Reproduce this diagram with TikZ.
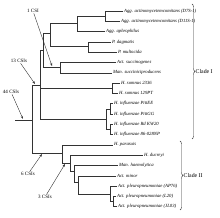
\documentclass[tikz,border=0pt]{standalone}
\usepackage{fontspec}
\setmainfont{Liberation Serif}
\usetikzlibrary{arrows.meta,decorations.pathreplacing}
\begin{document}
\begin{tikzpicture}[x=0.35mm, y=-0.35mm, line width=0.4pt, draw=black!80,
  >={Stealth[length=3pt,width=2.2pt]},
  leaf/.style={anchor=west, inner sep=1pt, font=\fontsize{4.7}{5}\selectfont\itshape},
  csi/.style={inner sep=0.5pt, font=\fontsize{5}{5}\selectfont},
  clade/.style={anchor=west, inner sep=0.5pt, font=\fontsize{5.8}{6}\selectfont},
  tree/.style={draw=black!80}]
  \useasboundingbox (0,0) rectangle (220,218);
  % leaves, clade I
  \node[leaf] (aa1) at (123,11) {Agg. actinomycetemcomitans (D7S-1)};
  \node[leaf] (aa2) at (120,21.3) {Agg. actinomycetemcomitans (D11S-1)};
  \node[leaf] (aph) at (105,31.6) {Agg. aphrophilus};
  \node[leaf] (pdag) at (111,41.9) {P. dagmatis};
  \node[leaf] (pmul) at (117,52.2) {P. multocida};
  \node[leaf] (asuc) at (116,62.5) {Act. succinogenes};
  \node[leaf] (msuc) at (112,72.8) {Man. succiniciproducens};
  \node[leaf] (hs1) at (120,83.1) {H. somnus 2336};
  \node[leaf] (hs2) at (118,93.4) {H. somnus 129PT};
  \node[leaf] (hi1) at (113,103.7) {H. influenzae PittEE};
  \node[leaf] (hi2) at (113,114) {H. influenzae PittGG};
  \node[leaf] (hi3) at (113,124.3) {H. influenzae Rd KW20};
  \node[leaf] (hi4) at (113,134.6) {H. influenzae 86-028NP};
  % leaves, clade II
  \node[leaf] (hpar) at (113,144.9) {H. parasuis};
  \node[leaf] (hduc) at (143,155.2) {H. ducreyi};
  \node[leaf] (mhae) at (118,165.5) {Man. haemolytica};
  \node[leaf] (amin) at (116,175.8) {Act. minor};
  \node[leaf] (apl1) at (117,186.1) {Act. pleuropneumoniae (AP76)};
  \node[leaf] (apl2) at (116,196.4) {Act. pleuropneumoniae (L20)};
  \node[leaf] (apl3) at (117,206.7) {Act. pleuropneumoniae (JL03)};
  % inner nodes
  \coordinate (stem) at (15,120);
  \coordinate (root) at (32,120);
  \coordinate (cI) at (40,85);
  \coordinate (nE) at (43,50);
  \coordinate (nC) at (50,33);
  \coordinate (nA) at (77,23);
  \coordinate (nA1) at (105,16);
  \coordinate (nB) at (88,46);
  \coordinate (nD) at (60,67);
  \coordinate (nS) at (112,88);
  \coordinate (nH) at (106,119);
  \coordinate (nHa) at (110,109);
  \coordinate (nHb) at (110,129);
  \coordinate (cII) at (62,153);
  \coordinate (n2) at (70,163);
  \coordinate (n3) at (74,171);
  \coordinate (n4) at (78,182);
  \coordinate (nP) at (110,194);
  \coordinate (nP2) at (113,201.5);
  % branches
  \draw[tree] (stem) -- (root);
  \draw[tree] (root) |- (cI);
  \draw[tree] (root) |- (cII);
  \draw[tree] (cI) |- (nE);
  \draw[tree] (cI) |- (nS);
  \draw[tree] (cI) |- (nH);
  \draw[tree] (nE) |- (nC);
  \draw[tree] (nE) |- (nD);
  \draw[tree] (nC) |- (nA);
  \draw[tree] (nC) |- (nB);
  \draw[tree] (nA) |- (nA1);
  \draw[tree] (nA) |- (aph.west);
  \draw[tree] (nA1) |- (aa1.west);
  \draw[tree] (nA1) |- (aa2.west);
  \draw[tree] (nB) |- (pdag.west);
  \draw[tree] (nB) |- (pmul.west);
  \draw[tree] (nD) |- (asuc.west);
  \draw[tree] (nD) |- (msuc.west);
  \draw[tree] (nS) |- (hs1.west);
  \draw[tree] (nS) |- (hs2.west);
  \draw[tree] (nH) |- (nHa);
  \draw[tree] (nH) |- (nHb);
  \draw[tree] (nHa) |- (hi1.west);
  \draw[tree] (nHa) |- (hi2.west);
  \draw[tree] (nHb) |- (hi3.west);
  \draw[tree] (nHb) |- (hi4.west);
  \draw[tree] (cII) |- (hpar.west);
  \draw[tree] (cII) |- (n2);
  \draw[tree] (n2) |- (hduc.west);
  \draw[tree] (n2) |- (n3);
  \draw[tree] (n3) |- (mhae.west);
  \draw[tree] (n3) |- (n4);
  \draw[tree] (n4) |- (amin.west);
  \draw[tree] (n4) |- (nP);
  \draw[tree] (nP) |- (apl1.west);
  \draw[tree] (nP) |- (nP2);
  \draw[tree] (nP2) |- (apl2.west);
  \draw[tree] (nP2) |- (apl3.west);
  % CSI marks
  \node[csi] (k1) at (33,11) {1 CSI};
  \node[csi] (k13) at (19,61) {13 CSIs};
  \node[csi] (k44) at (11,92) {44 CSIs};
  \node[csi] (k6) at (28,174) {6 CSIs};
  \node[csi] (k3) at (45,197) {3 CSIs};
  \coordinate (t1) at (52,66);
  \coordinate (t13) at (35,84);
  \coordinate (t44) at (23,119);
  \coordinate (t6) at (42,154);
  \coordinate (t3) at (65,164);
  \draw[->] (k1) -- (t1);
  \draw[->] (k13) -- (t13);
  \draw[->] (k44) -- (t44);
  \draw[->] (k6) -- (t6);
  \draw[->] (k3) -- (t3);
  % clades
  \draw[decorate, decoration={brace, amplitude=3pt}] (192,4) -- (192,139);
  \node[clade] (clI) at (195,71.5) {Clade I};
  \draw[decorate, decoration={brace, amplitude=3pt}] (180,141) -- (180,210);
  \node[clade] (clII) at (183,175.5) {Clade II};
\end{tikzpicture}
\end{document}
